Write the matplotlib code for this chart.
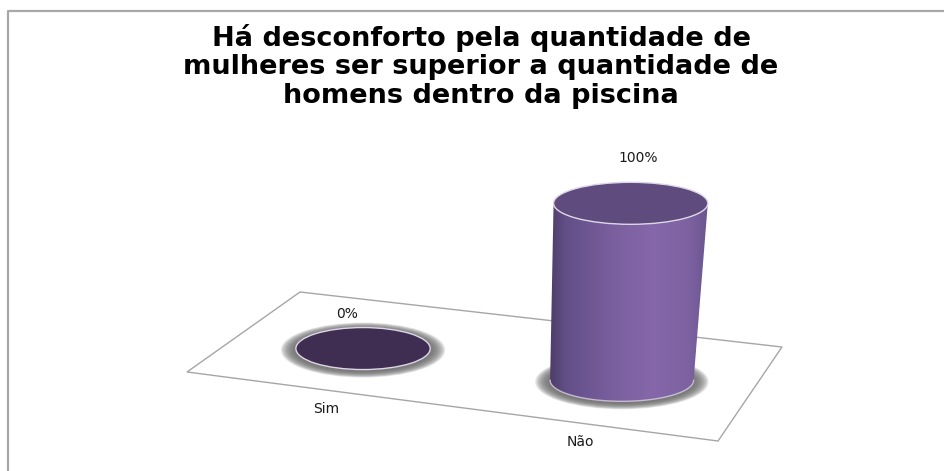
import numpy as np
import matplotlib
matplotlib.use("Agg")
import matplotlib.pyplot as plt
from matplotlib.patches import Ellipse, Polygon
from matplotlib.colors import LinearSegmentedColormap

# ---------------- data ----------------
title_lines = ["Há desconforto pela quantidade de",
               "mulheres ser superior a quantidade de",
               "homens dentro da piscina"]
categories = ["Sim", "Não"]
values = [0, 100]
value_labels = ["0%", "100%"]

# ---------------- layout / style ----------------
W, H = 944, 471
fig = plt.figure(figsize=(W / 100, H / 100), dpi=100)
ax = fig.add_axes([0, 0, 1, 1])
ax.set_xlim(0, W)
ax.set_ylim(H, 0)
ax.axis("off")

# outer chart border (only left/top visible)
ax.plot([8, 8, W + 5], [H + 5, 11, 11], color="#a8a8a8", lw=1.6, solid_capstyle="butt")

# floor (perspective parallelogram)
TL = np.array([300.0, 292.0]); TR = np.array([782.0, 347.0])
BR = np.array([718.0, 441.0]); BL = np.array([187.0, 372.0])
ax.add_patch(Polygon([TL, TR, BR, BL], closed=True, fill=False,
                     edgecolor="#a6a6a6", lw=1.0))

def floor_point(s, t):
    top = TL + s * (TR - TL)
    bot = BL + s * (BR - BL)
    return top + t * (bot - top)

px_per_pct = 177.0 / 100.0
ell_h = 42.0

def half_arc(cx, cy, w, h, front=True, n=60):
    th = np.linspace(np.pi, 0, n) if front else np.linspace(np.pi, 2 * np.pi, n)
    x = cx + (w / 2) * np.cos(th)
    y = cy + (h / 2) * np.sin(th)
    return x, y

def shadow(cx, cy, w, h):
    n = 12
    for k in range(n):
        f = 1 - k / n
        ax.add_patch(Ellipse((cx, cy + 1.5), w + 30 * f, h + 13 * f,
                             facecolor="#6a6a6a", edgecolor="none", alpha=0.16, zorder=2))

body_cmap = LinearSegmentedColormap.from_list(
    "cyl", [(0.0, "#4e3d68"), (0.10, "#634f88"), (0.40, "#7a5f9e"),
            (0.65, "#8567aa"), (0.88, "#7d62a1"), (1.0, "#6a5590")])

for i, (cat, v, lab) in enumerate(zip(categories, values, value_labels)):
    s = 0.24 + 0.51 * i
    cx_b, cy_b = floor_point(s, 0.52)
    w_b = 130 + 18 * s
    hgt = v * px_per_pct
    cx_t = cx_b + 0.05 * hgt
    cy_t = cy_b - hgt
    w_t = w_b * (1 + 0.075 * v / 100)

    shadow(cx_b, cy_b, w_b, ell_h)

    if hgt > 0:
        xb, yb = half_arc(cx_b, cy_b, w_b, ell_h, front=True)
        xt, yt = half_arc(cx_t, cy_t, w_t, ell_h, front=True)
        verts = ([(cx_t - w_t / 2, cy_t)] + list(zip(xb, yb)) +
                 [(cx_t + w_t / 2, cy_t)] + list(zip(xt[::-1], yt[::-1])))
        poly = Polygon(verts, closed=True, facecolor="none", edgecolor="none")
        ax.add_patch(poly)
        x0 = min(cx_t - w_t / 2, cx_b - w_b / 2)
        x1 = max(cx_t + w_t / 2, cx_b + w_b / 2)
        grad = np.linspace(0, 1, 256).reshape(1, -1)
        im = ax.imshow(grad, cmap=body_cmap, extent=(x0, x1, cy_b + ell_h, cy_t - ell_h),
                       aspect="auto", zorder=3, interpolation="bilinear")
        im.set_clip_path(poly)
        ax.plot(xb, yb, color="#d8d0e2", lw=1.0, zorder=4, alpha=0.8)
        top_col = "#5f4b7e"
    else:
        top_col = "#3f2e51"

    ax.add_patch(Ellipse((cx_t, cy_t), w_t, ell_h, facecolor=top_col,
                         edgecolor="#ddd6e6", lw=1.0, zorder=5))

    # value label
    label_dx = -16 + 47 * (s - 0.24)
    gap = 10 + 10 * v / 100
    ax.text(cx_t + label_dx, cy_t - ell_h / 2 - gap, lab, ha="center", va="baseline",
            fontsize=10, color="#1a1a1a", zorder=6)

    # category label along the front edge of the floor
    sl = 0.25 + 0.48 * i
    lx, ly = floor_point(sl, 1.0)
    ax.text(lx + 6, ly + 24, cat, ha="center", va="baseline", fontsize=10,
            color="#1a1a1a", zorder=6)

# title
for k, line in enumerate(title_lines):
    ax.text(481, 46 + 28.5 * k, line, ha="center", va="baseline",
            fontsize=19.5, fontweight="bold", color="#000000")

ax.set_xlim(0, W)
ax.set_ylim(H, 0)
fig.savefig("out.png", dpi=100, facecolor="white")
